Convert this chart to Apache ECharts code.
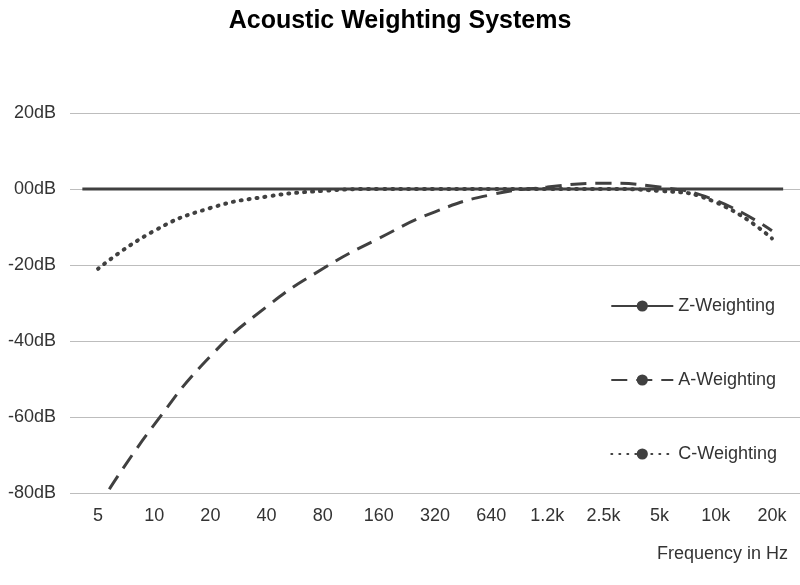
<!DOCTYPE html>
<html>
<head>
<meta charset="utf-8">
<script src="https://cdn.jsdelivr.net/npm/echarts@6/dist/echarts.min.js"></script>
<style>html,body{margin:0;padding:0;background:#fff}#c{width:800px;height:585px}</style>
</head>
<body>
<div id="c"></div>
<script>
// octave labels, x position = octave index
const freqLabels = ["5", "10", "20", "40", "80", "160", "320", "640", "1.2k", "2.5k", "5k", "10k", "20k"];
const zWeighting = [[-0.28, 0], [12.2, 0]];
const aWeighting = [[0.2, -79], [1, -62], [2, -44], [3, -31], [4, -21], [5, -13], [6, -6],
  [7, -1.5], [8, 0.5], [9, 1.5], [10, 0.5], [11, -3], [12, -11]];
const cWeighting = [[0, -21], [1, -11], [2, -5], [3, -2], [4, -0.5], [5, 0], [6, 0],
  [7, 0], [8, 0], [9, 0], [10, -0.5], [11, -3.5], [12, -13]];

const ink = "#404040";
const font = "Liberation Sans";

const chart = echarts.init(document.getElementById("c"));
chart.setOption({
  animation: false,
  title: {
    text: "Acoustic Weighting Systems", left: "center", top: 4,
    textStyle: { fontFamily: font, fontSize: 25, fontWeight: "bold", color: "#000" }
  },
  legend: {
    orient: "vertical", right: 18, top: 292, itemGap: 56,
    itemWidth: 62, itemHeight: 14,
    textStyle: { fontFamily: font, fontSize: 18, color: "#333" },
    data: ["Z-Weighting", "A-Weighting", "C-Weighting"]
  },
  grid: { left: 70, right: -6, top: 113, bottom: 92 },
  xAxis: [
    { type: "value", min: -0.5, max: 12.5, show: false },
    {
      type: "category", data: freqLabels, position: "bottom", boundaryGap: true,
      axisLine: { show: false }, axisTick: { show: false },
      axisLabel: { fontFamily: font, fontSize: 18, color: "#333", margin: 14 },
      name: "Frequency in Hz", nameLocation: "end", nameGap: 0,
      nameTextStyle: { fontFamily: font, fontSize: 18, color: "#333", align: "right", verticalAlign: "top", padding: [52, 12, 0, 0] }
    }
  ],
  yAxis: {
    type: "value", min: -80, max: 20, interval: 20,
    axisLine: { show: false }, axisTick: { show: false },
    axisLabel: { fontFamily: font, fontSize: 18, color: "#333", margin: 14, formatter: v => (v === 0 ? "00" : v) + "dB" },
    splitLine: { lineStyle: { color: "#bdbdbd", width: 1 } }
  },
  series: [
    { name: "Z-Weighting", type: "line", xAxisIndex: 0, data: zWeighting, symbol: "none",
      lineStyle: { color: ink, width: 3 }, itemStyle: { color: ink } },
    { name: "A-Weighting", type: "line", xAxisIndex: 0, data: aWeighting, smooth: true, symbol: "none",
      lineStyle: { color: ink, width: 3, type: [16, 9] }, itemStyle: { color: ink } },
    { name: "C-Weighting", type: "line", xAxisIndex: 0, data: cWeighting, smooth: true, symbol: "none",
      lineStyle: { color: ink, width: 4, type: [1, 7], cap: "round" }, itemStyle: { color: ink } }
  ]
});
</script>
</body>
</html>
